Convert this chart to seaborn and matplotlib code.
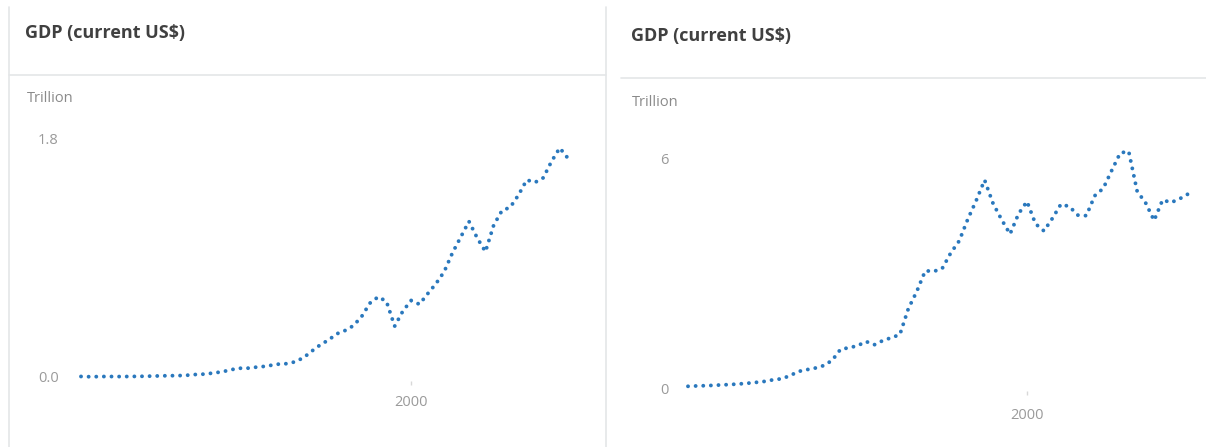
import matplotlib
matplotlib.use("Agg")
import matplotlib.pyplot as plt
from matplotlib.lines import Line2D
import seaborn as sns
import pandas as pd

years = list(range(1960, 2020))

korea_gdp = [
    0.0040, 0.0021, 0.0028, 0.0039, 0.0035, 0.0031, 0.0040, 0.0048, 0.0059, 0.0074,
    0.0090, 0.0099, 0.0108, 0.0139, 0.0195, 0.0218, 0.0299, 0.0383, 0.0514, 0.0664,
    0.0648, 0.0726, 0.0784, 0.0878, 0.0976, 0.1006, 0.1155, 0.1473, 0.1966, 0.2426,
    0.2793, 0.3255, 0.3502, 0.3863, 0.4554, 0.5562, 0.6034, 0.5701, 0.3831, 0.4972,
    0.5765, 0.5477, 0.6271, 0.7025, 0.7933, 0.9347, 1.0530, 1.1723, 1.0471, 0.9439,
    1.1440, 1.2530, 1.2781, 1.3704, 1.4842, 1.4655, 1.5000, 1.6233, 1.7252, 1.6467,
]

japan_gdp = [
    0.0443, 0.0539, 0.0604, 0.0690, 0.0817, 0.0910, 0.1058, 0.1237, 0.1468, 0.1720,
    0.2127, 0.2404, 0.3180, 0.4320, 0.4795, 0.5215, 0.5862, 0.7214, 1.0139, 1.0553,
    1.1053, 1.2183, 1.1345, 1.2433, 1.3182, 1.3985, 2.0785, 2.5321, 3.0718, 3.0546,
    3.1328, 3.5370, 3.8530, 4.4150, 4.9070, 5.4490, 4.8330, 4.4140, 4.0330, 4.5620,
    4.8880, 4.3040, 4.1150, 4.4450, 4.8150, 4.7550, 4.5300, 4.5150, 5.0380, 5.2310,
    5.7000, 6.1570, 6.2030, 5.1550, 4.8500, 4.3890, 4.9270, 4.8600, 4.9550, 5.0820,
]

title = "GDP (current US$)"
unit_label = "Trillion"
x_ticks = [2000]
left_yticks = [0.0, 1.8]
left_ylabels = ["0.0", "1.8"]
right_yticks = [0, 6]
right_ylabels = ["0", "6"]

sns.set_theme(style="white")
plt.rcParams["font.family"] = ["Open Sans", "DejaVu Sans"]

W, H = 1206, 447
fig = plt.figure(figsize=(W / 100, H / 100), dpi=100)
fig.patch.set_facecolor("white")

line_color = "#2a78bd"
border = "#e4e6e8"


def px_axes(x0, x1, y_top, y_bot):
    return fig.add_axes([x0 / W, 1 - y_bot / H, (x1 - x0) / W, (y_bot - y_top) / H])


def draw_panel(vals, ticks, labels, x0, x1, y_hi_px, y_zero_px, y_hi, y_bot_px, ypad, xpad):
    per_px = y_hi / (y_zero_px - y_hi_px)
    ax = px_axes(x0, x1, y_hi_px, y_bot_px)
    df = pd.DataFrame({"year": years, "gdp": vals})
    sns.lineplot(data=df, x="year", y="gdp", ax=ax, color=line_color,
                 linewidth=2.8, clip_on=False)
    ln = ax.lines[0]
    ln.set_linestyle((0, (0.01, 1.95)))
    ln.set_dash_capstyle("round")
    ax.set_xlim(1960, 2019)
    ax.set_ylim(-(y_bot_px - y_zero_px) * per_px, y_hi)
    for s in ax.spines.values():
        s.set_visible(False)
    ax.set_facecolor("none")
    ax.set_xlabel("")
    ax.set_ylabel("")
    ax.set_yticks(ticks)
    ax.set_yticklabels(labels)
    ax.set_xticks(x_ticks)
    ax.set_xticklabels([str(t) for t in x_ticks])
    ax.tick_params(axis="y", length=0, pad=ypad, labelsize=10.5, labelcolor="#9a9a9a")
    ax.tick_params(axis="x", bottom=True, direction="out", length=3, width=1,
                   color="#d8d8d8", pad=xpad, labelsize=10.5, labelcolor="#9a9a9a")
    return ax


draw_panel(korea_gdp, left_yticks, left_ylabels, 81, 568, 138, 377, 1.8, 381, 16, 7)
draw_panel(japan_gdp, right_yticks, right_ylabels, 688, 1188, 159, 388, 6, 391, 14, 9)

# card borders and dividers
def hline(y, x0, x1):
    fig.add_artist(Line2D([x0 / W, x1 / W], [1 - y / H, 1 - y / H], color=border, lw=1.2))


def vline(x, y0, y1):
    fig.add_artist(Line2D([x / W, x / W], [1 - y0 / H, 1 - y1 / H], color=border, lw=1.2))


vline(8.5, 7, 447)
vline(606, 7, 447)
hline(75, 8.5, 606)
hline(78, 621, 1206)

# titles and unit labels
for tx, ty, ux, uy in [(25, 33, 27, 99), (631, 36, 632, 102)]:
    fig.text(tx / W, 1 - ty / H, title, fontsize=13, fontweight="bold",
             color="#404040", va="center", ha="left")
    fig.text(ux / W, 1 - uy / H, unit_label, fontsize=10.5, color="#8a8a8a",
             va="center", ha="left")

fig.savefig("out.png", dpi=100, facecolor="white")
